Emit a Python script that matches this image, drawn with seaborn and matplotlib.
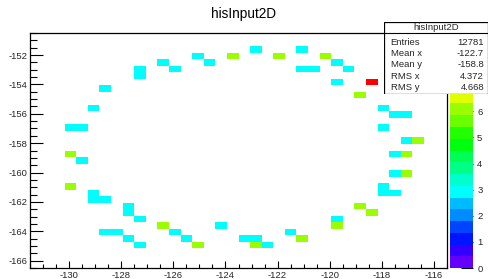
import colorsys
import numpy as np
import pandas as pd
import matplotlib
matplotlib.use("Agg")
import matplotlib.pyplot as plt
from matplotlib.colors import ListedColormap
from matplotlib.ticker import MultipleLocator
from matplotlib.patches import Rectangle
import seaborn as sns

# ---------------- data ----------------
title = "hisInput2D"

x_center = [-129.94, -129.50, -129.06, -128.61, -127.28, -127.28, -126.39, -125.94,
            -125.06, -124.61, -123.72, -122.83, -121.94, -121.06, -120.17, -119.72,
            -121.06, -120.61, -119.28, -119.72, -118.39, -118.83, -117.94, -117.50,
            -117.06, -117.94, -117.06, -116.61, -117.50, -117.06, -117.50, -117.06,
            -117.94, -117.94, -117.50, -118.83, -118.39, -119.72, -119.72, -121.50,
            -121.06, -123.28, -122.83, -122.83, -122.39, -129.94, -129.50, -129.94,
            -129.06, -129.06, -128.61, -127.72, -127.72, -127.28, -126.39, -128.61,
            -128.17, -125.94, -127.72, -125.50, -127.28, -125.06, -124.17]
y_center = [-156.94, -156.94, -155.61, -154.28, -152.94, -153.39, -152.50, -152.94,
            -152.06, -152.50, -152.06, -151.61, -152.06, -151.61, -152.06, -152.50,
            -152.94, -152.94, -152.94, -153.83, -153.83, -154.72, -155.61, -156.06,
            -156.06, -156.94, -157.83, -157.83, -158.72, -158.72, -160.06, -160.06,
            -160.94, -161.39, -161.39, -162.28, -162.72, -163.17, -163.61, -164.06,
            -164.50, -164.50, -164.50, -164.94, -164.94, -158.72, -159.17, -160.94,
            -161.39, -161.83, -161.83, -162.28, -162.72, -163.17, -163.61, -164.06,
            -164.06, -164.06, -164.50, -164.50, -164.94, -164.94, -163.61]
counts = [3, 3, 3, 3, 3, 3, 3, 3,
          3, 3, 6, 3, 6, 3, 6, 3,
          3, 3, 3, 3, 9, 6, 3, 3,
          3, 3, 3, 6, 3, 6, 3, 6,
          3, 3, 3, 6, 6, 3, 6, 3,
          6, 3, 3, 6, 3, 6, 3, 6,
          3, 3, 3, 3, 3, 3, 6, 3,
          3, 3, 3, 3, 3, 6, 3]

x_range = (-131.5, -115.5)
y_range = (-166.5, -150.5)
n_bins = 36
z_max = 9
z_ticks = [0, 1, 2, 3, 4, 5, 6]   # 7 and 8 are hidden behind the stats box

stats_title = "hisInput2D"
stats_labels = ["Entries", "Mean x", "Mean y", "RMS x", "RMS y"]
stats_values = ["12781", "-122.7", "-158.8", "4.372", "4.668"]

# ---------------- style ----------------
sns.set_theme(style="white")
plt.rcParams["font.family"] = ["Liberation Sans", "DejaVu Sans"]
plt.rcParams["axes.unicode_minus"] = False

# ROOT "pretty" palette, 20 contour levels
n_cont = 20
pal = []
for k in range(n_cont):
    idx = int((k + 0.99) * 50 / n_cont)
    hue = max(280 - (idx + 1) * 5.6, 0)
    pal.append(colorsys.hls_to_rgb(hue / 360.0, 0.5, 1.0))
cmap = ListedColormap(pal)

W, H = 488, 279
fig = plt.figure(figsize=(W / 100, H / 100), dpi=100)
fig.patch.set_facecolor("white")

def fx(px):
    return px / W

def fy(py):
    return 1 - py / H

ax = fig.add_axes([fx(30), fy(268), fx(447) - fx(30), fy(33) - fy(268)])
cax = fig.add_axes([fx(450), fy(268), fx(473) - fx(450), fy(33) - fy(268)])

df = pd.DataFrame({"x": x_center, "y": y_center, "w": counts})
xedges = np.linspace(x_range[0], x_range[1], n_bins + 1)
yedges = np.linspace(y_range[0], y_range[1], n_bins + 1)

sns.histplot(data=df, x="x", y="y", weights="w", bins=(xedges, yedges),
             cmap=cmap, vmin=0, vmax=z_max, ax=ax,
             cbar=True, cbar_ax=cax, cbar_kws={"ticks": z_ticks})

ax.set_xlim(*x_range)
ax.set_ylim(*y_range)
ax.set_xlabel("")
ax.set_ylabel("")
ax.set_facecolor("white")
for s in ax.spines.values():
    s.set_visible(True)
    s.set_color("black")
    s.set_linewidth(0.9)

ax.xaxis.set_major_locator(MultipleLocator(2))
ax.xaxis.set_minor_locator(MultipleLocator(0.5))
ax.yaxis.set_major_locator(MultipleLocator(2))
ax.yaxis.set_minor_locator(MultipleLocator(0.5))
ax.tick_params(axis="x", which="major", direction="in", length=5, width=0.8,
               color="black", labelsize=6.8, pad=2.5, top=False, bottom=True)
ax.tick_params(axis="x", which="minor", direction="in", length=2.8, width=0.8,
               color="black", top=False, bottom=True)
ax.tick_params(axis="y", which="major", direction="in", length=9.4, width=0.8,
               color="black", labelsize=6.8, pad=2, right=False, left=True)
ax.tick_params(axis="y", which="minor", direction="in", length=5, width=0.8,
               color="black", right=False, left=True)
ax.grid(False)

cax.tick_params(axis="y", which="both", direction="in", length=9, width=0.8,
                color="black", labelsize=6.8, pad=3, right=True, left=False)
cax.yaxis.set_ticks_position("right")
cax.minorticks_off()
for s in cax.spines.values():
    s.set_visible(False)
try:
    ax.collections[0].colorbar.outline.set_visible(False)
except Exception:
    pass

fig.text(0.5, fy(18), title, ha="center", va="baseline", fontsize=9.8, color="black")

# ---------------- stats box ----------------
sax = fig.add_axes([fx(384), fy(94), fx(487.5) - fx(384), fy(22) - fy(94)], zorder=10)
sax.set_xlim(384, 487.5)
sax.set_ylim(94, 22)
sax.axis("off")
sax.add_patch(Rectangle((384, 22), 103.5, 72, facecolor="white", edgecolor="black",
                        linewidth=0.9, zorder=1))
sax.plot([384, 487.5], [33, 33], color="black", lw=0.8, zorder=2)
sax.text(436, 28, stats_title, ha="center", va="center", fontsize=6.8, zorder=3)
row_y = [42, 53, 64, 76.5, 87.5]
for lab, val, yy in zip(stats_labels, stats_values, row_y):
    sax.text(390.5, yy, lab, ha="left", va="center", fontsize=6.8, zorder=3)
    sax.text(484, yy, val, ha="right", va="center", fontsize=6.8, zorder=3)

fig.savefig("out.png", dpi=100, facecolor="white")
